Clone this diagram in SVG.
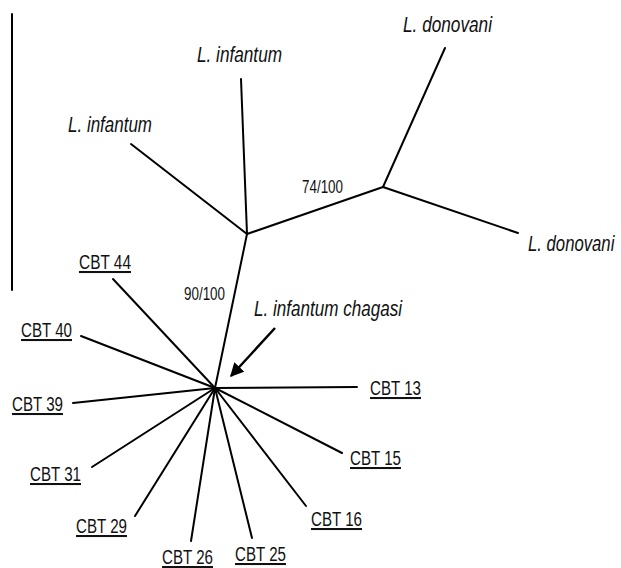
<svg xmlns="http://www.w3.org/2000/svg" width="621" height="568" viewBox="0 0 621 568">
<style>
.br{stroke:#000;stroke-width:2;fill:none;stroke-linecap:round}
.sp{font-family:"Liberation Sans",Arial,sans-serif;font-style:italic;font-size:22px;fill:#111}
.cbt{font-family:"Liberation Sans",Arial,sans-serif;font-size:20.5px;fill:#111;text-decoration:underline}
.bs{font-family:"Liberation Sans",Arial,sans-serif;font-size:18px;fill:#111}
</style>
<defs>
<marker id="ah" viewBox="0 0 10 10" refX="9" refY="5" markerWidth="5.5" markerHeight="5.5" orient="auto" markerUnits="strokeWidth">
<path d="M0,0 L10,5 L0,10 Z" fill="#000"/>
</marker>
</defs>
<rect width="621" height="568" fill="#fff"/>
<g id="connectors">
<line class="br" x1="12" y1="14" x2="12" y2="290"/>
<line class="br" x1="247" y1="234" x2="241" y2="79"/>
<line class="br" x1="247" y1="234" x2="131" y2="144"/>
<line class="br" x1="247" y1="234" x2="383" y2="187"/>
<line class="br" x1="383" y1="187" x2="445" y2="48"/>
<line class="br" x1="383" y1="187" x2="518" y2="233"/>
<line class="br" x1="247" y1="234" x2="215" y2="388"/>
<line class="br" x1="215" y1="388" x2="113" y2="279"/>
<line class="br" x1="215" y1="388" x2="81" y2="336"/>
<line class="br" x1="215" y1="388" x2="73" y2="403"/>
<line class="br" x1="215" y1="388" x2="92" y2="467"/>
<line class="br" x1="215" y1="388" x2="135" y2="516"/>
<line class="br" x1="215" y1="388" x2="191" y2="541"/>
<line class="br" x1="215" y1="388" x2="252" y2="538"/>
<line class="br" x1="215" y1="388" x2="306" y2="506"/>
<line class="br" x1="215" y1="388" x2="342" y2="453"/>
<line class="br" x1="215" y1="388" x2="357" y2="387"/>
<line stroke="#000" stroke-width="2.5" x1="275" y1="328" x2="231" y2="376" marker-end="url(#ah)"/>
</g>
<g id="node-infantum-top"><text class="sp" x="197" y="62" textLength="85" lengthAdjust="spacingAndGlyphs">L. infantum</text></g>
<g id="node-infantum-left"><text class="sp" x="68" y="132" textLength="84" lengthAdjust="spacingAndGlyphs">L. infantum</text></g>
<g id="node-donovani-top"><text class="sp" x="403" y="32" textLength="89" lengthAdjust="spacingAndGlyphs">L. donovani</text></g>
<g id="node-donovani-right"><text class="sp" transform="translate(528,251) scale(0.76,1)" x="0" y="0">L. donovani</text></g>
<g id="label-74"><text class="bs" x="302" y="193" textLength="41" lengthAdjust="spacingAndGlyphs">74/100</text></g>
<g id="label-90"><text class="bs" x="184" y="300" textLength="41" lengthAdjust="spacingAndGlyphs">90/100</text></g>
<g id="node-chagasi"><text class="sp" x="254" y="316" textLength="148" lengthAdjust="spacingAndGlyphs">L. infantum chagasi</text></g>
<g id="node-cbt44"><text class="cbt" x="79" y="269" textLength="52" lengthAdjust="spacingAndGlyphs">CBT 44</text></g>
<g id="node-cbt40"><text class="cbt" x="21" y="337" textLength="51" lengthAdjust="spacingAndGlyphs">CBT 40</text></g>
<g id="node-cbt39"><text class="cbt" x="12" y="411" textLength="51" lengthAdjust="spacingAndGlyphs">CBT 39</text></g>
<g id="node-cbt31"><text class="cbt" x="30" y="481" textLength="51" lengthAdjust="spacingAndGlyphs">CBT 31</text></g>
<g id="node-cbt29"><text class="cbt" x="76" y="533" textLength="51" lengthAdjust="spacingAndGlyphs">CBT 29</text></g>
<g id="node-cbt26"><text class="cbt" x="162" y="564" textLength="51" lengthAdjust="spacingAndGlyphs">CBT 26</text></g>
<g id="node-cbt25"><text class="cbt" x="235" y="561" textLength="51" lengthAdjust="spacingAndGlyphs">CBT 25</text></g>
<g id="node-cbt16"><text class="cbt" x="311" y="526" textLength="51" lengthAdjust="spacingAndGlyphs">CBT 16</text></g>
<g id="node-cbt15"><text class="cbt" x="350" y="465" textLength="51" lengthAdjust="spacingAndGlyphs">CBT 15</text></g>
<g id="node-cbt13"><text class="cbt" x="370" y="395" textLength="51" lengthAdjust="spacingAndGlyphs">CBT 13</text></g>
</svg>
